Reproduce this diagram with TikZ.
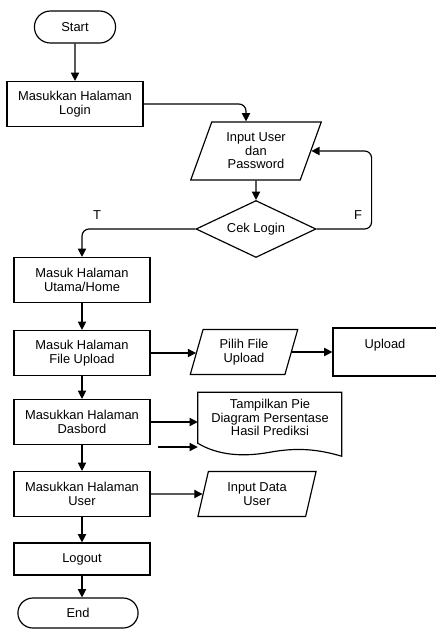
\documentclass[tikz,border=0pt]{standalone}
\usepackage{fontspec}
\setmainfont{Liberation Sans}
\usetikzlibrary{shapes.geometric, shapes.misc, arrows.meta, calc}

\begin{document}
\begin{tikzpicture}[x=0.03cm, y=-0.03cm,
    every node/.style={font=\fontsize{11}{11.5}\selectfont, align=center},
    proc/.style={draw, line width=1pt, rectangle, minimum width=4.08cm, minimum height=1.35cm, inner sep=1pt},
    term/.style={draw, line width=1pt, rounded rectangle, minimum height=0.96cm},
    io/.style={draw, line width=1pt, trapezium, trapezium stretches=true, inner sep=1pt},
    decision/.style={draw, line width=1pt, diamond, aspect=2.1, inner sep=0pt, minimum width=3.6cm, minimum height=1.71cm},
    flow/.style={line width=1pt, -{Triangle[length=7pt, width=7pt]}}]
    \useasboundingbox (0,0) rectangle (435,630);

    \node[term, minimum width=2.67cm] (start) at (75,27) {Start};
    \node[proc] (login) at (75,104) {Masukkan Halaman\\Login};
    \node[io, trapezium left angle=69, trapezium right angle=111, minimum width=3.93cm, minimum height=1.74cm] (input) at (256,151) {Input User\\dan\\Password};
    \node[decision] (cek) at (256,229) {Cek Login};
    \node[proc] (home) at (82,280) {Masuk Halaman\\Utama/Home};
    \node[proc] (fileup) at (82,353) {Masuk Halaman\\File Upload};
    \node[io, trapezium left angle=74, trapezium right angle=106, minimum width=3.24cm, minimum height=1.35cm] (pilih) at (244,352) {Pilih File\\Upload};
    \node[proc, minimum width=3.12cm, minimum height=1.44cm, text height=8pt, text depth=14.8pt] (upload) at (385,352) {Upload};
    \node[proc] (dasbord) at (82,422) {Masukkan Halaman\\Dasbord};
    \node[minimum width=4.32cm, minimum height=1.53cm] (doc) at (270,417.5) {Tampilkan Pie\\Diagram Persentase\\Hasil Prediksi};
    \draw[line width=1pt, shift={(doc.south west)}] (0,0) .. controls (20,12) and (45,14) .. (72,9)
        .. controls (100,4) and (120,6) .. (144,13) -- (144,-51) -- (0,-51) -- cycle;
    \node[proc] (user) at (82,494) {Masukkan Halaman\\User};
    \node[io, trapezium left angle=75, trapezium right angle=105, minimum width=3.57cm, minimum height=1.35cm] (indata) at (257,494) {Input Data\\User};
    \node[proc, minimum height=0.96cm] (logout) at (82,559) {Logout};
    \node[term, minimum width=3.84cm, minimum height=0.9cm] (end) at (78,613) {End};

    \coordinate (stub) at (158,447);

    \draw[flow] (start) -- (login);
    \draw[flow, rounded corners=6pt] (login.east) -| ([xshift=-0.3cm]input.north);
    \draw[flow] (input) -- (cek);
    \draw[flow, rounded corners=6pt] (cek.east) -- ++(55,0) |- (input.east);
    \draw[flow, rounded corners=6pt] (cek.west) -| (home.north);
    \node (t) at (97,215) {T};
    \node (f) at (358,215) {F};
    \draw[flow] (home) -- (fileup);
    \draw[flow] (fileup.east) -- (fileup.east -| pilih.west);
    \draw[flow] (pilih.east) -- (pilih.east -| upload.west);
    \draw[flow] (fileup) -- (dasbord);
    \draw[flow] (dasbord.east) -- (dasbord.east -| doc.west);
    \draw[flow] (stub) -- (stub -| doc.west);
    \draw[flow] (dasbord) -- (user);
    \draw[flow] (user) -- (indata);
    \draw[flow] (user) -- (logout);
    \draw[flow] (logout.south) -- (logout.south |- end.north);
\end{tikzpicture}
\end{document}
